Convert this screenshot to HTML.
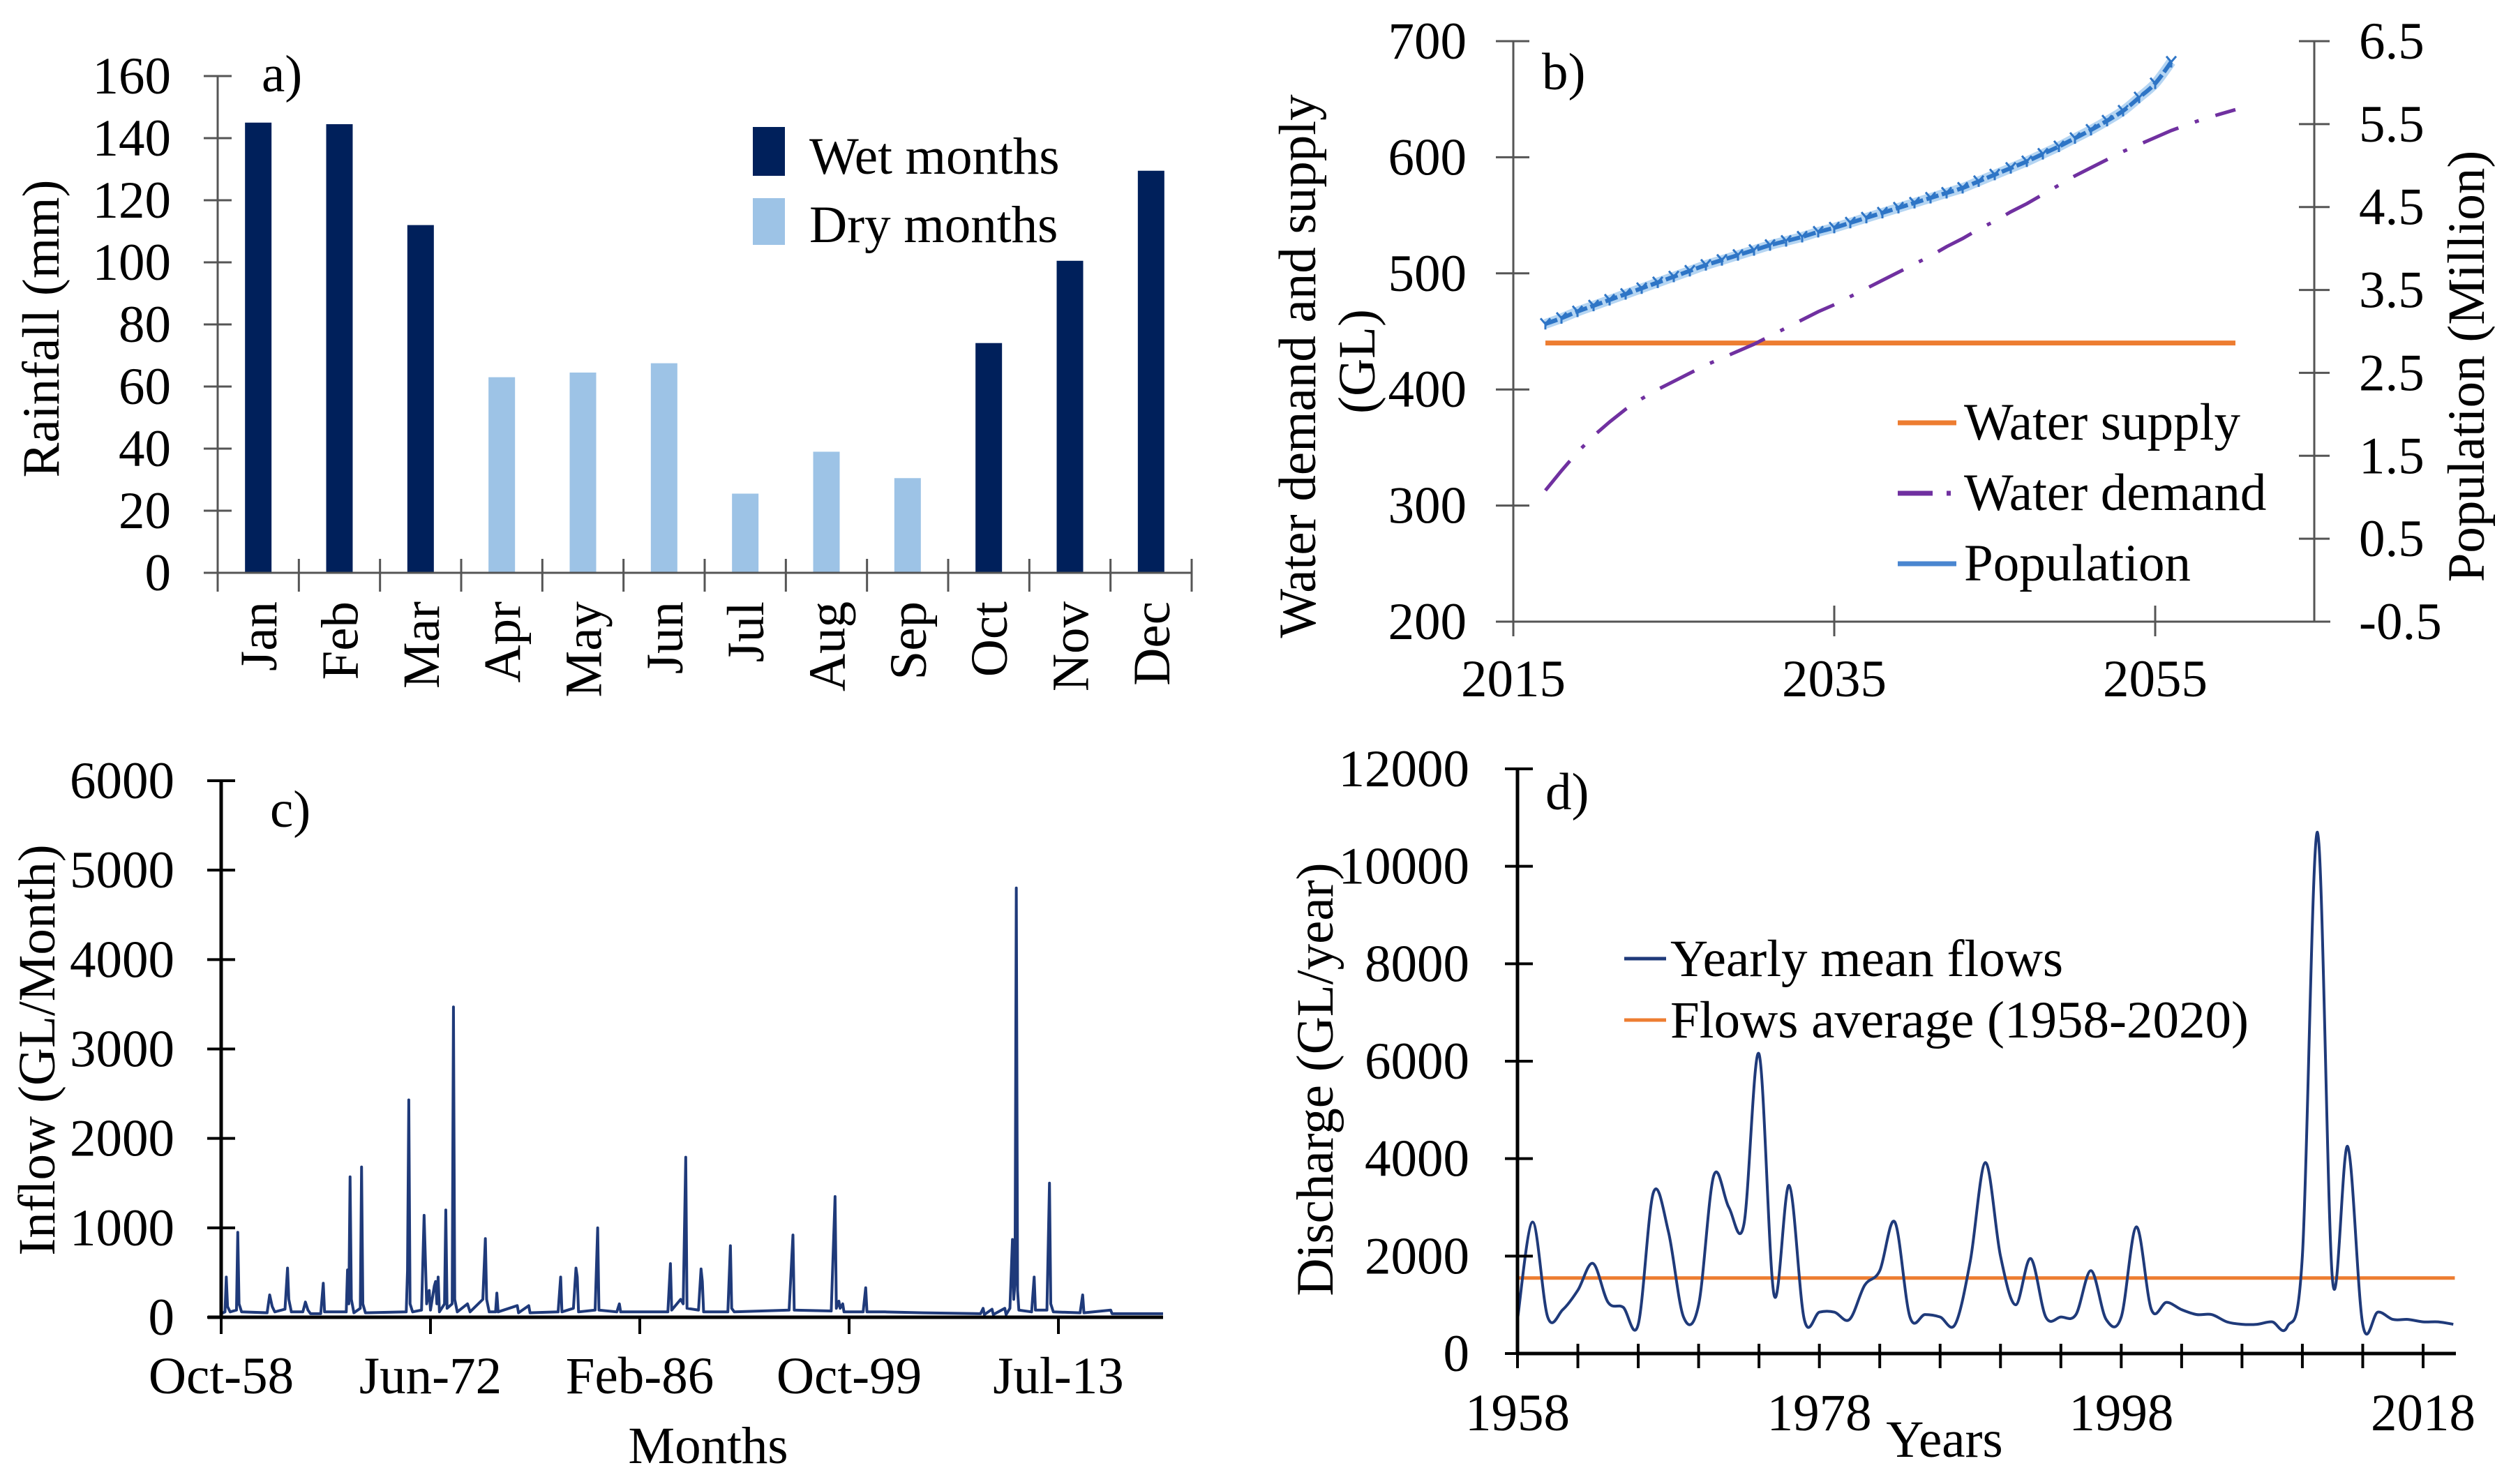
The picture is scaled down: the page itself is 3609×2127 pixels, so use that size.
<!DOCTYPE html>
<html><head><meta charset="utf-8"><style>
html,body{margin:0;padding:0;background:#fff;overflow:hidden;}
svg{display:block;}
text{font-family:"Liberation Serif",serif;font-size:75px;fill:#000;}
</style></head><body>
<svg id="fig" xmlns="http://www.w3.org/2000/svg" width="3609" height="2127" viewBox="0 0 3609 2127">
<rect width="3609" height="2127" fill="#fff"/>
</svg>
<script>
// ---- Panel a data ----
const aMonths = ["Jan","Feb","Mar","Apr","May","Jun","Jul","Aug","Sep","Oct","Nov","Dec"];
const aRain = [145,144.5,112,63,64.5,67.5,25.5,39,30.5,74,100.5,129.5];
const aWet = [1,1,1,0,0,0,0,0,0,1,1,1];
const aTicks = [0,20,40,60,80,100,120,140,160];
// ---- Panel b data ----
const bDemandYears = [2017,2018,2019,2020,2021,2022,2023,2024,2025,2026,2027,2028,2029,2030,2031,2032,2033,2034,2035,2036,2037,2038,2039,2040,2041,2042,2043,2044,2045,2046,2047,2048,2049,2050,2051,2052,2053,2054,2055,2056,2057,2058,2059,2060];
const bDemand = [313,330,346,360,372,383,392,400,407,414,421,427,433,439,446,453,460,467,473,480,487,494,501,508,515,523,530,538,545,553,560,568,576,584,591,598,605,611,617,623,628,633,637,641];
const bSupplyYears = [2017,2060];
const bSupply = [440,440];
const bPopYears = [2017,2018,2019,2020,2021,2022,2023,2024,2025,2026,2027,2028,2029,2030,2031,2032,2033,2034,2035,2036,2037,2038,2039,2040,2041,2042,2043,2044,2045,2046,2047,2048,2049,2050,2051,2052,2053,2054,2055,2056];
const bPop = [3.09,3.16,3.24,3.31,3.38,3.45,3.52,3.59,3.66,3.73,3.80,3.86,3.92,3.98,4.04,4.09,4.14,4.20,4.25,4.31,4.37,4.43,4.49,4.55,4.61,4.67,4.73,4.81,4.89,4.97,5.05,5.14,5.23,5.33,5.43,5.54,5.66,5.82,5.99,6.25];
const bLeftTicks = [200,300,400,500,600,700];
const bRightTicks = ["-0.5","0.5","1.5","2.5","3.5","4.5","5.5","6.5"];
const bXTicks = [2015,2035,2055];
// ---- Panel c data ----
const cMonthIdx = [0,3,4,5,7,12,13,14,16,36,38,40,42,50,52,53,55,64,66,68,70,78,80,81,98,99,100,101,102,104,109,110,111,113,145,146,147,148,150,157,159,160,161,163,164,167,168,169,170,171,175,176,177,181,182,183,185,193,195,205,207,208,210,215,216,217,232,233,241,242,264,266,267,276,278,279,280,293,295,296,310,312,313,350,352,353,360,362,364,365,374,376,377,378,397,399,400,402,445,448,449,478,481,482,484,485,487,488,503,505,506,520,550,595,597,598,604,605,614,615,618,620,621,622,623,624,625,635,637,638,647,649,650,652,673,675,676,697,698,738];
const cFlow = [40,60,450,120,60,80,950,150,60,50,250,120,60,90,550,200,60,60,170,80,40,40,380,60,60,530,150,1570,200,50,100,1680,150,50,60,520,2430,150,60,80,1140,650,150,300,80,350,400,150,450,60,150,1200,100,150,3470,200,60,150,60,200,880,200,60,60,270,60,130,50,130,50,60,450,60,100,550,450,60,80,1000,80,60,150,60,60,600,80,200,150,1790,100,80,540,400,60,60,800,100,60,80,920,80,70,1350,100,180,100,150,60,60,330,60,60,50,40,100,30,90,30,100,30,100,870,200,400,4800,300,80,60,450,80,80,1500,150,60,50,250,50,80,40,40];
const cTickLabels = ["Oct-58","Jun-72","Feb-86","Oct-99","Jul-13"];
const cYTicks = [0,1000,2000,3000,4000,5000,6000];
// ---- Panel d data ----
const dYears = [1958,1959,1960,1961,1962,1963,1964,1965,1966,1967,1968,1969,1970,1971,1972,1973,1974,1975,1976,1977,1978,1979,1980,1981,1982,1983,1984,1985,1986,1987,1988,1989,1990,1991,1992,1993,1994,1995,1996,1997,1998,1999,2000,2001,2002,2003,2004,2005,2006,2007,2008,2009,2010,2011,2012,2013,2014,2015,2016,2017,2018,2019,2020];
const dFlow = [700,2700,750,900,1300,1850,1050,950,600,3300,2500,750,1000,3650,3000,2650,6150,1200,3450,700,850,850,700,1400,1700,2700,750,800,750,600,1900,3920,2000,1000,1950,750,750,800,1700,700,750,2600,900,1050,900,800,800,650,600,600,650,550,2000,10700,1500,4250,600,850,700,700,650,650,600];
const dAverage = [1550,1550];
const dAvgYears = [1958,2020.1];
const dYTicks = [0,2000,4000,6000,8000,10000,12000];
const dXLabels = [1958,1978,1998,2018];

const NS = "http://www.w3.org/2000/svg";
const svg = document.getElementById("fig");
function mk(tag, attrs, parent){
  const e = document.createElementNS(NS, tag);
  for (const k in attrs) e.setAttribute(k, attrs[k]);
  (parent||svg).appendChild(e);
  return e;
}
function txt(s, x, y, anchor, rot, name, parent){
  const t = mk("text", {"text-anchor":anchor, transform: rot ? `translate(${x},${y}) rotate(-90)` : `translate(${x},${y})`}, parent);
  t.textContent = s;
  
  
  return t;
}
function line(x1,y1,x2,y2,stroke,w,name,parent){
  const l = mk("line",{x1,y1,x2,y2,stroke,"stroke-width":w},parent);
  
  
  return l;
}
function grp(name){
  const g = mk("g",{});
  
  
  return g;
}
function smoothPath(pts){
  let d = `M${pts[0][0]},${pts[0][1]}`;
  for (let i=0;i<pts.length-1;i++){
    const p0=pts[Math.max(0,i-1)], p1=pts[i], p2=pts[i+1], p3=pts[Math.min(pts.length-1,i+2)];
    const c1x=p1[0]+(p2[0]-p0[0])/6, c1y=p1[1]+(p2[1]-p0[1])/6;
    const c2x=p2[0]-(p3[0]-p1[0])/6, c2y=p2[1]-(p3[1]-p1[1])/6;
    d += ` C${c1x},${c1y} ${c2x},${c2y} ${p2[0]},${p2[1]}`;
  }
  return d;
}

// ===== Panel a =====
(function(){
  const g = grp("panel-a-rainfall-chart");
  const x0=312, x1=1708, yB=821, yT=109;
  const y = v => yB - (v/160)*(yB-yT);
  const cw = (x1-x0)/12;
  const bars = grp("bars"); g.appendChild(bars);
  aRain.forEach((v,i)=>{
    const cx = x0 + cw*(i+0.5);
    const r = mk("rect",{x:cx-19,y:y(v),width:38,height:yB-y(v),fill:aWet[i]?"#00205b":"#9dc3e6"},bars);
    
    
    txt(aMonths[i], cx+26, 862, "end", true, "x-tick-label", g);
  });
  line(x0,yT,x0,yB,"#555",3,"y-axis",g);
  line(x0,yB,x1,yB,"#555",3,"x-axis",g);
  aTicks.forEach(t=>{
    line(x0-20,y(t),x0+20,y(t),"#555",3,"y-tick",g);
    txt(String(t),245,y(t)+25,"end",false,"y-tick-label",g);
  });
  for(let i=0;i<=12;i++) line(x0+cw*i,801,x0+cw*i,848,"#555",3,"x-tick",g);
  txt("Rainfall (mm)",84,471,"middle",true,"y-axis-title",g);
  txt("a)",375,131,"start",false,"panel-label",g);
  const l1 = mk("rect",{x:1079,y:182,width:46,height:70,fill:"#00205b"},g);
  
  
  txt("Wet months",1160,249,"start",false,"legend-entry-wet",g);
  const l2 = mk("rect",{x:1079,y:284,width:46,height:67,fill:"#9dc3e6"},g);
  
  
  txt("Dry months",1160,347,"start",false,"legend-entry-dry",g);
})();

// ===== Panel b =====
(function(){
  const g = grp("panel-b-water-demand-chart");
  const xL=2169, xR=3317, yB=891, yT=59;
  const X = yr => xL + (yr-2015)*(3089-2169)/40;
  const Y = v => yB - (v-200)/500*(yB-yT);
  const YR = v => yB - (v+0.5)/7*(yB-yT);
  line(xL,yT,xL,yB,"#555",3,"left-y-axis",g);
  line(xR,yT,xR,yB,"#555",3,"right-y-axis",g);
  line(2146,yB,3340,yB,"#555",3,"x-axis",g);
  bLeftTicks.forEach(t=>{
    line(xL-25,Y(t),xL+23,Y(t),"#555",3,"left-y-tick",g);
    txt(String(t),2102,Y(t)+25,"end",false,"left-y-tick-label",g);
  });
  bRightTicks.forEach(t=>{
    const v=parseFloat(t);
    line(xR-22,YR(v),xR+22,YR(v),"#555",3,"right-y-tick",g);
    txt(t,3381,YR(v)+25,"start",false,"right-y-tick-label",g);
  });
  bXTicks.forEach(t=>{
    line(X(t),868,X(t),912,"#555",3,"x-tick",g);
    txt(String(t),X(t),998,"middle",false,"x-tick-label",g);
  });
  const sup = mk("polyline",{points:bSupplyYears.map((yr,i)=>X(yr)+","+Y(bSupply[i])).join(" "),fill:"none",stroke:"#ed7d31","stroke-width":7},g);
  
  
  const dem = mk("polyline",{points:bDemandYears.map((yr,i)=>X(yr)+","+Y(bDemand[i])).join(" "),fill:"none",stroke:"#7030a0","stroke-width":5,"stroke-dasharray":"55 25 6 25"},g);
  
  
  const popPts = bPopYears.map((yr,i)=>[X(yr),YR(bPop[i])]);
  const halo = mk("path",{d:smoothPath(popPts),fill:"none",stroke:"#b5d5f2","stroke-width":14},g);
  
  
  const pop = mk("path",{d:smoothPath(popPts),fill:"none",stroke:"#2e75c6","stroke-width":6,"stroke-dasharray":"18 5"},g);
  
  
  popPts.forEach(p=>{
    const m = mk("path",{d:`M${p[0]-7},${p[1]-8} L${p[0]},${p[1]} L${p[0]+7},${p[1]-8} M${p[0]},${p[1]} L${p[0]},${p[1]+8}`,stroke:"#2e75c6","stroke-width":3,fill:"none"},g);
    
    
  });
  txt("b)",2210,128,"start",false,"panel-label",g);
  txt("Water demand and supply",1885,525,"middle",true,"left-y-axis-title",g);
  txt("(GL)",1970,518,"middle",true,"left-y-axis-title-unit",g);
  txt("Population (Million)",3560,525,"middle",true,"right-y-axis-title",g);
  line(2720,606,2804,606,"#ed7d31",7,"legend-swatch-supply",g);
  txt("Water supply",2815,630,"start",false,"legend-entry-supply",g);
  line(2720,707,2770,707,"#7030a0",7,"legend-swatch-demand",g);
  line(2790,707,2796,707,"#7030a0",7,"legend-swatch-demand-dot",g);
  txt("Water demand",2815,731,"start",false,"legend-entry-demand",g);
  line(2720,808,2804,808,"#4a86d0",7,"legend-swatch-population",g);
  txt("Population",2815,832,"start",false,"legend-entry-population",g);
})();

// ===== Panel c =====
(function(){
  const g = grp("panel-c-inflow-chart");
  const x0=317, yB=1888, yT=1119;
  const X = m => x0 + m*(617-317)/164;
  const Y = v => yB - v/6000*(yB-yT);
  const path = mk("polyline",{points:cMonthIdx.map((m,i)=>X(m)+","+Y(cFlow[i])).join(" "),fill:"none",stroke:"#1f3a7a","stroke-width":4,"stroke-linejoin":"round"},g);
  
  
  line(x0,yT,x0,yB+2,"#000",5,"y-axis",g);
  line(298,yB,1667,yB,"#000",5,"x-axis",g);
  cYTicks.forEach(t=>{
    line(x0-20,Y(t),x0+20,Y(t),"#000",4,"y-tick",g);
    txt(String(t),250,Y(t)+25,"end",false,"y-tick-label",g);
  });
  cTickLabels.forEach((s,i)=>{
    const x = X(164*i);
    line(x,yB,x,yB+24,"#000",4,"x-tick",g);
    txt(s,x,1997,"middle",false,"x-tick-label",g);
  });
  txt("Months",1015,2097,"middle",false,"x-axis-title",g);
  txt("Inflow (GL/Month)",78,1505,"middle",true,"y-axis-title",g);
  txt("c)",387,1185,"start",false,"panel-label",g);
})();

// ===== Panel d =====
(function(){
  const g = grp("panel-d-discharge-chart");
  const x0=2175, yB=1940, yT=1102;
  const X = yr => x0 + (yr-1958)*(3473-2175)/60;
  const Y = v => yB - v/12000*(yB-yT);
  const avg = mk("polyline",{points:dAvgYears.map((yr,i)=>X(yr)+","+Y(dAverage[i])).join(" "),fill:"none",stroke:"#ed7d31","stroke-width":5},g);
  
  
  const crv = mk("path",{d:smoothPath(dYears.map((yr,i)=>[X(yr),Y(dFlow[i])])),fill:"none",stroke:"#1f3a7a","stroke-width":4},g);
  
  
  line(x0,yT,x0,yB+2,"#000",5,"y-axis",g);
  line(x0,yB,3520,yB,"#000",5,"x-axis",g);
  dYTicks.forEach(t=>{
    line(x0-18,Y(t),x0+22,Y(t),"#000",4,"y-tick",g);
    txt(String(t),2106,Y(t)+25,"end",false,"y-tick-label",g);
  });
  for(let yr=1958; yr<=2018; yr+=4) line(X(yr),yB-14,X(yr),yB+21,"#000",4,"x-tick",g);
  dXLabels.forEach(yr=>txt(String(yr),X(yr),2050,"middle",false,"x-tick-label",g));
  txt("Years",2787,2088,"middle",false,"x-axis-title",g);
  txt("Discharge (GL/year)",1910,1547,"middle",true,"y-axis-title",g);
  txt("d)",2215,1160,"start",false,"panel-label",g);
  line(2328,1374,2388,1374,"#1f3a7a",5,"legend-swatch-flows",g);
  txt("Yearly mean flows",2394,1399,"start",false,"legend-entry-flows",g);
  line(2328,1462,2388,1462,"#ed7d31",5,"legend-swatch-average",g);
  txt("Flows average (1958-2020)",2394,1487,"start",false,"legend-entry-average",g);
})();
</script>
</body></html>
